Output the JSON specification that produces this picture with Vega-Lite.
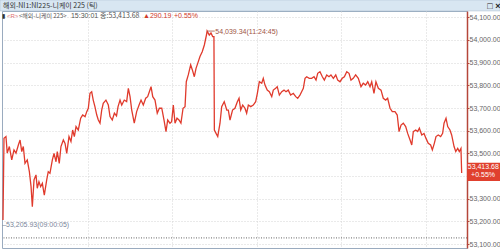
{
  "$schema": "https://vega.github.io/schema/vega-lite/v6.json",
  "width": 465,
  "height": 237,
  "autosize": {"type": "none"},
  "padding": {"left": 2, "top": 11, "right": 33, "bottom": 3},
  "background": "white",
  "config": {
    "view": {"stroke": "#9aabbf", "strokeWidth": 1},
    "font": "Liberation Sans",
    "axis": {"labelFont": "Liberation Sans", "labelFontSize": 7, "labelColor": "#666", "labelOverlap": false}
  },
  "resolve": {"axis": {"x": "independent", "y": "independent"}},
  "datasets": {
    "one": [{}],
    "ticks": [
      {"t":0,"v":53206},{"t":0.7,"v":53566},{"t":2.1,"v":53574},{"t":3.0,"v":53501},{"t":4.5,"v":53530},{"t":6.2,"v":53471},{"t":7.8,"v":53515},{"t":9.2,"v":53501},{"t":10.9,"v":53537},{"t":12.1,"v":53559},{"t":13.3,"v":53508},{"t":14.4,"v":53530},{"t":15.6,"v":53456},{"t":17.2,"v":53471},{"t":18.7,"v":53419},{"t":19.9,"v":53353},{"t":20.8,"v":53265},{"t":22.0,"v":53383},{"t":23.4,"v":53405},{"t":24.3,"v":53346},{"t":25.5,"v":53375},{"t":26.7,"v":53353},{"t":27.9,"v":53368},{"t":29.3,"v":53316},{"t":31.0,"v":53383},{"t":32.1,"v":53419},{"t":33.3,"v":53412},{"t":35.0,"v":53471},{"t":36.2,"v":53500},{"t":37.6,"v":53463},{"t":38.5,"v":53508},{"t":39.9,"v":53456},{"t":41.1,"v":53530},{"t":42.8,"v":53559},{"t":44.0,"v":53544},{"t":45.2,"v":53500},{"t":46.8,"v":53574},{"t":48.2,"v":53552},{"t":49.4,"v":53603},{"t":50.6,"v":53574},{"t":51.8,"v":53618},{"t":53.4,"v":53603},{"t":55.1,"v":53655},{"t":56.5,"v":53669},{"t":58.2,"v":53662},{"t":59.4,"v":53684},{"t":60.5,"v":53699},{"t":61.7,"v":53765},{"t":62.9,"v":53772},{"t":64.0,"v":53735},{"t":65.2,"v":53706},{"t":66.5,"v":53669},{"t":67.6,"v":53647},{"t":68.8,"v":53633},{"t":70.0,"v":53691},{"t":71.1,"v":53721},{"t":73.0,"v":53735},{"t":74.7,"v":53713},{"t":75.9,"v":53662},{"t":77.5,"v":53647},{"t":79.0,"v":53677},{"t":80.5,"v":53665},{"t":81.6,"v":53706},{"t":83.0,"v":53735},{"t":84.2,"v":53713},{"t":86.0,"v":53735},{"t":87.7,"v":53728},{"t":88.9,"v":53787},{"t":90.1,"v":53750},{"t":91.3,"v":53691},{"t":93.1,"v":53633},{"t":94.8,"v":53684},{"t":96.5,"v":53713},{"t":97.9,"v":53735},{"t":99.5,"v":53713},{"t":101.2,"v":53743},{"t":102.6,"v":53750},{"t":103.8,"v":53772},{"t":105.0,"v":53794},{"t":106.2,"v":53750},{"t":107.8,"v":53735},{"t":109.4,"v":53677},{"t":110.9,"v":53699},{"t":112.6,"v":53699},{"t":114.2,"v":53647},{"t":115.6,"v":53596},{"t":116.8,"v":53647},{"t":118.4,"v":53633},{"t":119.6,"v":53640},{"t":120.8,"v":53713},{"t":122.0,"v":53633},{"t":123.4,"v":53655},{"t":124.8,"v":53647},{"t":126.2,"v":53633},{"t":127.7,"v":53699},{"t":129.1,"v":53706},{"t":130.0,"v":53816},{"t":131.4,"v":53846},{"t":133.1,"v":53890},{"t":134.3,"v":53868},{"t":135.7,"v":53838},{"t":136.9,"v":53875},{"t":138.1,"v":53897},{"t":139.7,"v":53927},{"t":141.3,"v":53948},{"t":142.8,"v":53978},{"t":144.3,"v":54022},{"t":144.75,"v":54039.34},{"t":146.3,"v":54022},{"t":147.5,"v":54031},{"t":148.7,"v":54015},{"t":149.6,"v":54015},{"t":149.9,"v":53603},{"t":151.1,"v":53588},{"t":152.3,"v":53574},{"t":153.9,"v":53633},{"t":155.1,"v":53706},{"t":156.9,"v":53728},{"t":158.7,"v":53691},{"t":159.8,"v":53691},{"t":161.0,"v":53647},{"t":162.8,"v":53691},{"t":164.5,"v":53699},{"t":166.2,"v":53728},{"t":167.4,"v":53743},{"t":168.6,"v":53691},{"t":170.0,"v":53713},{"t":171.6,"v":53699},{"t":172.8,"v":53677},{"t":174.0,"v":53713},{"t":175.7,"v":53706},{"t":177.5,"v":53713},{"t":179.2,"v":53728},{"t":180.4,"v":53765},{"t":181.8,"v":53816},{"t":183.5,"v":53809},{"t":184.6,"v":53831},{"t":185.8,"v":53801},{"t":187.4,"v":53779},{"t":188.9,"v":53772},{"t":190.6,"v":53750},{"t":191.7,"v":53779},{"t":193.4,"v":53787},{"t":194.5,"v":53794},{"t":196.0,"v":53757},{"t":197.7,"v":53772},{"t":199.3,"v":53779},{"t":200.7,"v":53772},{"t":202.3,"v":53779},{"t":204.0,"v":53757},{"t":205.9,"v":53765},{"t":207.6,"v":53750},{"t":209.0,"v":53743},{"t":210.6,"v":53757},{"t":211.8,"v":53772},{"t":213.0,"v":53787},{"t":214.2,"v":53831},{"t":215.4,"v":53838},{"t":217.2,"v":53831},{"t":218.9,"v":53831},{"t":220.6,"v":53838},{"t":222.0,"v":53823},{"t":223.2,"v":53853},{"t":224.8,"v":53860},{"t":226.5,"v":53838},{"t":227.9,"v":53823},{"t":229.6,"v":53846},{"t":231.2,"v":53838},{"t":232.6,"v":53846},{"t":234.3,"v":53831},{"t":236.0,"v":53846},{"t":237.4,"v":53823},{"t":239.0,"v":53816},{"t":240.6,"v":53831},{"t":242.1,"v":53838},{"t":243.8,"v":53860},{"t":245.4,"v":53853},{"t":246.8,"v":53823},{"t":248.4,"v":53831},{"t":250.1,"v":53846},{"t":252.0,"v":53831},{"t":253.9,"v":53794},{"t":255.5,"v":53809},{"t":257.2,"v":53801},{"t":258.7,"v":53816},{"t":260.3,"v":53794},{"t":261.5,"v":53816},{"t":263.1,"v":53765},{"t":264.5,"v":53816},{"t":266.2,"v":53787},{"t":268.1,"v":53779},{"t":269.7,"v":53743},{"t":271.4,"v":53735},{"t":272.8,"v":53743},{"t":274.5,"v":53699},{"t":276.1,"v":53684},{"t":278.0,"v":53684},{"t":279.6,"v":53669},{"t":280.9,"v":53596},{"t":282.3,"v":53625},{"t":283.9,"v":53633},{"t":285.6,"v":53618},{"t":287.0,"v":53588},{"t":288.7,"v":53559},{"t":289.9,"v":53537},{"t":291.0,"v":53596},{"t":292.7,"v":53603},{"t":294.1,"v":53596},{"t":295.3,"v":53611},{"t":297.0,"v":53581},{"t":298.6,"v":53588},{"t":300.0,"v":53566},{"t":301.6,"v":53544},{"t":303.3,"v":53537},{"t":304.5,"v":53515},{"t":305.9,"v":53544},{"t":307.1,"v":53574},{"t":308.7,"v":53581},{"t":310.4,"v":53574},{"t":311.8,"v":53588},{"t":312.8,"v":53633},{"t":314.2,"v":53655},{"t":315.4,"v":53618},{"t":317.0,"v":53603},{"t":318.2,"v":53581},{"t":319.9,"v":53530},{"t":321.1,"v":53508},{"t":322.5,"v":53522},{"t":323.6,"v":53508},{"t":324.8,"v":53522},{"t":325.3,"v":53413.68}
    ]
  },
  "layer": [
    {
      "data": {"name": "ticks"},
      "mark": {"type": "line", "color": "#e03a2c", "strokeWidth": 1.3, "interpolate": "linear"},
      "encoding": {
        "x": {"field": "t", "type": "quantitative", "scale": {"domain": [-0.71, 329.08], "nice": false, "zero": false},
          "axis": {"values": [60, 120, 180, 240, 300], "grid": true, "gridColor": "#d4d4d4", "gridDash": [1, 2], "labels": false, "ticks": false, "domain": false, "title": null}},
        "y": {"field": "v", "type": "quantitative", "scale": {"domain": [53082.5, 54127.9], "nice": false, "zero": false},
          "axis": {"orient": "right", "values": [53100, 53200, 53300, 53400, 53500, 53600, 53700, 53800, 53900, 54000, 54100], "format": ",.2f", "labelOverlap": false, "grid": true, "gridColor": "#d4d4d4", "gridDash": [1, 2], "domainColor": "#b5463a", "domainWidth": 1.5, "tickColor": "#b5463a", "tickSize": 2, "labelPadding": 0, "title": null}}
      }
    },
    {
      "data": {"name": "one"},
      "mark": {"type": "rect", "color": "#d8e6f2", "stroke": "#aabdd0", "strokeWidth": 0.6},
      "encoding": {
        "x": {"datum": -2.2, "type": "quantitative", "axis": null},
        "x2": {"datum": 352.6},
        "y": {"datum": 54177, "type": "quantitative", "axis": null},
        "y2": {"datum": 54128.5}
      }
    },
    {
      "data": {"name": "one"},
      "mark": {"type": "rule", "color": "#666666", "strokeDash": [1, 1.5], "strokeWidth": 1},
      "encoding": {"y": {"datum": 53127, "type": "quantitative", "axis": null}}
    },
    {
      "data": {"name": "one"},
      "mark": {"type": "rule", "color": "#a05545", "strokeWidth": 0.8},
      "encoding": {"x": {"datum": 144.75, "type": "quantitative", "axis": null}, "x2": {"datum": 150.2}, "y": {"datum": 54039.34, "type": "quantitative", "axis": null}}
    },
    {
      "data": {"name": "one"},
      "mark": {"type": "text", "text": "54,039.34(11:24:45)", "align": "left", "baseline": "middle", "fontSize": 7, "color": "#a05545"},
      "encoding": {"x": {"datum": 150.6, "type": "quantitative", "axis": null}, "y": {"datum": 54035, "type": "quantitative", "axis": null}}
    },
    {
      "data": {"name": "one"},
      "mark": {"type": "text", "text": "–53,205.93(09:00:05)", "align": "left", "baseline": "middle", "fontSize": 7, "color": "#7a8599"},
      "encoding": {"x": {"datum": -0.6, "type": "quantitative", "axis": null}, "y": {"datum": 53186, "type": "quantitative", "axis": null}}
    },
    {
      "data": {"name": "one"},
      "mark": {"type": "text", "text": "해외-NI1:NI225-니케이 225 (틱)", "align": "left", "baseline": "middle", "fontSize": 7, "color": "#333333", "font": "Noto Sans CJK KR"},
      "encoding": {"x": {"datum": 0, "type": "quantitative", "axis": null}, "y": {"datum": 54152, "type": "quantitative", "axis": null}}
    },
    {
      "data": {"name": "one"},
      "mark": {"type": "text", "text": "□ ×", "align": "left", "baseline": "middle", "fontSize": 9, "fontWeight": "bold", "color": "#222222"},
      "encoding": {"x": {"datum": 343.5, "type": "quantitative", "axis": null}, "y": {"datum": 54152, "type": "quantitative", "axis": null}}
    },
    {
      "data": {"name": "one"},
      "mark": {"type": "text", "text": "▮", "align": "left", "baseline": "middle", "fontSize": 6, "color": "#333333"},
      "encoding": {"x": {"datum": -0.4, "type": "quantitative", "axis": null}, "y": {"datum": 54106, "type": "quantitative", "axis": null}}
    },
    {
      "data": {"name": "one"},
      "mark": {"type": "text", "text": "<R>", "align": "left", "baseline": "middle", "fontSize": 6, "color": "#e07070"},
      "encoding": {"x": {"datum": 2.8, "type": "quantitative", "axis": null}, "y": {"datum": 54106, "type": "quantitative", "axis": null}}
    },
    {
      "data": {"name": "one"},
      "mark": {"type": "text", "text": "<해외-니케이 225>", "align": "left", "baseline": "middle", "fontSize": 6, "color": "#555555", "font": "Noto Sans CJK KR"},
      "encoding": {"x": {"datum": 11.3, "type": "quantitative", "axis": null}, "y": {"datum": 54106, "type": "quantitative", "axis": null}}
    },
    {
      "data": {"name": "one"},
      "mark": {"type": "text", "text": "15:30:01", "align": "left", "baseline": "middle", "fontSize": 7, "color": "#555555"},
      "encoding": {"x": {"datum": 48.2, "type": "quantitative", "axis": null}, "y": {"datum": 54106, "type": "quantitative", "axis": null}}
    },
    {
      "data": {"name": "one"},
      "mark": {"type": "text", "text": "종:53,413.68", "align": "left", "baseline": "middle", "fontSize": 7, "color": "#555555", "font": "Noto Sans CJK KR"},
      "encoding": {"x": {"datum": 68.8, "type": "quantitative", "axis": null}, "y": {"datum": 54106, "type": "quantitative", "axis": null}}
    },
    {
      "data": {"name": "one"},
      "mark": {"type": "text", "text": "▲290.19", "align": "left", "baseline": "middle", "fontSize": 7, "color": "#d03a2a"},
      "encoding": {"x": {"datum": 99.3, "type": "quantitative", "axis": null}, "y": {"datum": 54106, "type": "quantitative", "axis": null}}
    },
    {
      "data": {"name": "one"},
      "mark": {"type": "text", "text": "+0.55%", "align": "left", "baseline": "middle", "fontSize": 7, "color": "#d03a2a"},
      "encoding": {"x": {"datum": 121.3, "type": "quantitative", "axis": null}, "y": {"datum": 54106, "type": "quantitative", "axis": null}}
    },
    {
      "data": {"name": "one"},
      "mark": {"type": "rect", "color": "#e0402e"},
      "encoding": {"x": {"datum": 329.1, "type": "quantitative", "axis": null}, "x2": {"datum": 352.6}, "y": {"datum": 53458, "type": "quantitative", "axis": null}, "y2": {"datum": 53378}}
    },
    {
      "data": {"name": "one"},
      "mark": {"type": "text", "text": "53,413.68", "align": "left", "baseline": "middle", "fontSize": 7, "color": "white"},
      "encoding": {"x": {"datum": 329.6, "type": "quantitative", "axis": null}, "y": {"datum": 53440, "type": "quantitative", "axis": null}}
    },
    {
      "data": {"name": "one"},
      "mark": {"type": "text", "text": "+0.55%", "align": "left", "baseline": "middle", "fontSize": 7, "color": "white"},
      "encoding": {"x": {"datum": 332.0, "type": "quantitative", "axis": null}, "y": {"datum": 53403, "type": "quantitative", "axis": null}}
    }
  ]
}
